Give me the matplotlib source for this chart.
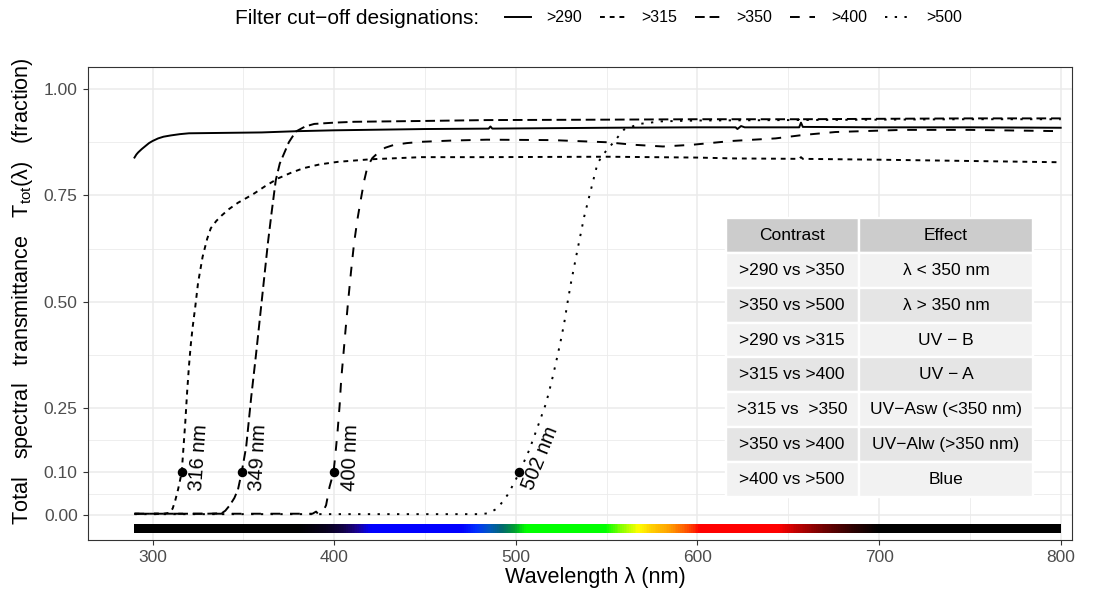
# Filter transmittance spectra with cut-off wavelengths marked

import numpy as np
import matplotlib
matplotlib.use("Agg")
import matplotlib.pyplot as plt
from matplotlib.colors import LinearSegmentedColormap
from matplotlib.lines import Line2D

plt.rcParams['font.family'] = ['Liberation Sans', 'DejaVu Sans']
plt.rcParams['mathtext.fontset'] = 'custom'
plt.rcParams['mathtext.rm'] = 'Liberation Sans'
plt.rcParams['mathtext.it'] = 'Liberation Sans:italic'

# Spectral data (wavelength nm, transmittance fraction)

w290 = [290, 291, 292, 294, 296, 298, 300, 303, 306, 310, 315, 320, 340, 360, 380, 400, 450,
        485, 486, 487, 550, 600, 621, 622, 624, 626, 656, 657, 658, 700, 750, 800]
t290 = [0.839, 0.846, 0.851, 0.859, 0.866, 0.873, 0.878, 0.884, 0.888, 0.891, 0.894, 0.896, 0.897,
        0.898, 0.901, 0.903, 0.906, 0.907, 0.912, 0.907, 0.909, 0.910, 0.910, 0.906, 0.913, 0.910,
        0.910, 0.921, 0.911, 0.910, 0.910, 0.909]

w315 = [290, 300, 306, 309, 311, 312.5, 314, 315, 316, 317, 318, 319, 320, 321, 322, 323.5, 325,
        327.5, 330, 332, 335, 338, 342, 347, 352, 356, 362, 369, 376, 383, 392, 402, 420, 448, 484,
        550, 600, 620, 656, 657, 658, 700, 750, 800]
t315 = [0.003, 0.003, 0.003, 0.005, 0.015, 0.035, 0.06, 0.08, 0.10, 0.16, 0.22, 0.29, 0.35, 0.40,
        0.44, 0.49, 0.545, 0.606, 0.648, 0.673, 0.690, 0.703, 0.718, 0.733, 0.745, 0.755, 0.772,
        0.790, 0.803, 0.814, 0.823, 0.829, 0.835, 0.840, 0.840, 0.841, 0.839, 0.837, 0.836, 0.840,
        0.836, 0.834, 0.831, 0.828]

w350 = [290, 330, 338, 340, 342.5, 345, 347, 349, 351.5, 354.3, 357, 359.5, 361.5, 363.5, 365.5,
        367.8, 370, 372.4, 375, 378.8, 384, 389, 400, 411, 450, 484, 550, 600, 656, 657, 658, 700,
        750, 800]
t350 = [0.003, 0.003, 0.004, 0.01, 0.023, 0.04, 0.06, 0.10, 0.16, 0.278, 0.38, 0.48, 0.56, 0.64,
        0.71, 0.786, 0.825, 0.849, 0.875, 0.900, 0.912, 0.918, 0.921, 0.923, 0.925, 0.927, 0.928,
        0.929, 0.929, 0.933, 0.929, 0.930, 0.931, 0.931]

w400 = [290, 380, 388, 390, 391, 394, 395.5, 397.4, 399.6, 400.8, 401.9, 403, 403.8, 405, 406.2,
        407.6, 409.2, 410.9, 412.8, 414.6, 416.5, 418.3, 421, 423.8, 428, 433, 440, 448, 465, 484,
        520, 550, 565, 581, 597, 619, 643, 658, 676, 713, 750, 800]
t400 = [0.003, 0.003, 0.003, 0.008, 0.003, 0.01, 0.023, 0.066, 0.10, 0.15, 0.20, 0.26, 0.317,
        0.375, 0.434, 0.50, 0.57, 0.638, 0.695, 0.74, 0.785, 0.818, 0.838, 0.849, 0.862, 0.869,
        0.873, 0.876, 0.879, 0.881, 0.880, 0.875, 0.869, 0.865, 0.869, 0.878, 0.884, 0.892, 0.899,
        0.904, 0.904, 0.901]

w500 = [290, 480, 485, 490, 495.4, 499, 501.9, 504.5, 507.4, 512, 516.6, 519.5, 522, 524.5, 526.6,
        528.5, 530.3, 533.9, 537.6, 541.3, 545, 548.6, 553.2, 559.6, 568, 580, 600, 650, 700, 750,
        800]
t500 = [0.002, 0.002, 0.004, 0.016, 0.047, 0.075, 0.10, 0.125, 0.153, 0.207, 0.262, 0.31, 0.356,
        0.405, 0.45, 0.50, 0.544, 0.622, 0.70, 0.763, 0.826, 0.849, 0.872, 0.905, 0.918, 0.924,
        0.926, 0.927, 0.928, 0.929, 0.929]

filter_names = ['>290', '>315', '>350', '>400', '>500']

# cut-off wavelengths where T = 0.10
cut_nm = [316, 349, 400, 502]
cut_T = [0.10, 0.10, 0.10, 0.10]
label_angle = [86, 87, 88, 68]

# table of contrasts
table_cols = ['Contrast', 'Effect']
contrast = ['>290 vs >350', '>350 vs >500', '>290 vs >315', '>315 vs >400',
            '>315 vs  >350', '>350 vs >400', '>400 vs >500']
effect = ['\u03bb < 350 nm', '\u03bb > 350 nm', 'UV \u2212 B', 'UV \u2212 A',
          'UV\u2212Asw (<350 nm)', 'UV\u2212Alw (>350 nm)', 'Blue']

# colours of the visible spectrum strip
spec_nm = [290, 380, 395, 405, 412, 420, 470, 478, 485, 492, 499, 505, 550, 558, 568, 575, 585,
           595, 602, 645, 655, 670, 685, 700, 800]
spec_col = ['#000000', '#000000', '#08001c', '#120048', '#1a0090', '#0000ff', '#0000ff', '#0030ff',
            '#0058c0', '#006870', '#00a030', '#00ff00', '#00ff00', '#80ff00', '#ffff00', '#ffd000',
            '#ffa000', '#ff5000', '#ff0000', '#ff0000', '#c00000', '#700000', '#300000', '#000000',
            '#000000']

# Plot

fig = plt.figure(figsize=(11, 5.94), dpi=100)
ax = fig.add_axes([0.08, 0.0909, 0.8945, 0.7963])

styles = ['-', (0, (2.5, 2.5)), (0, (5, 2.5)), (0, (5, 5)), (0, (1.2, 3.8))]
series = [(w290, t290), (w315, t315), (w350, t350), (w400, t400), (w500, t500)]

for (w, t), ls, name in zip(series, styles, filter_names):
    ax.plot(w, t, color='black', lw=1.4, linestyle=ls, label=name, zorder=3)

ax.scatter(cut_nm, cut_T, s=34, color='black', zorder=5)
for nm, y, ang in zip(cut_nm, cut_T, label_angle):
    off = (6, -12) if ang < 80 else (11, -13)
    ax.annotate(f"{nm} nm", (nm, y), xytext=off, textcoords='offset points',
                rotation=ang, rotation_mode='anchor', ha='left', va='center',
                fontsize=14.4, color='black')

# spectrum strip
cmap = LinearSegmentedColormap.from_list(
    'spec', [((n - 290) / 510, c) for n, c in zip(spec_nm, spec_col)], N=512)
ax.imshow(np.linspace(0, 1, 511)[None, :], cmap=cmap, extent=(290, 800, -0.0415, -0.022),
          aspect='auto', interpolation='nearest', zorder=2)

ax.set_xlim(264.4, 806.2)
ax.set_ylim(-0.0587, 1.0516)

ax.set_xticks([300, 400, 500, 600, 700, 800])
ax.set_xticks([350, 450, 550, 650, 750], minor=True)
ax.set_yticks([0, 0.10, 0.25, 0.50, 0.75, 1.00])
ax.set_yticklabels(['0.00', '0.10', '0.25', '0.50', '0.75', '1.00'])
ax.set_yticks([0.05, 0.175, 0.375, 0.625, 0.875], minor=True)

ax.grid(which='major', color='#EBEBEB', lw=1.1)
ax.grid(which='minor', color='#EBEBEB', lw=0.6)
ax.set_axisbelow(True)
ax.tick_params(which='major', length=3.9, width=0.8, color='#333333', labelcolor='#4D4D4D',
               labelsize=12.5)
ax.tick_params(which='minor', length=0)
for sp in ax.spines.values():
    sp.set_color('#333333')
    sp.set_linewidth(0.8)

ax.set_xlabel('Wavelength \u03bb (nm)', fontsize=15.6, va='center')
ax.set_ylabel(r'Total   spectral   transmittance   $\mathrm{T_{tot}(\lambda)}$   (fraction)',
              fontsize=15.6, va='center')
ax.xaxis.set_label_coords(0.516, -0.080)
ax.yaxis.set_label_coords(-0.067, 0.526)

# contrast table
tab = ax.table(cellText=[[c, e] for c, e in zip(contrast, effect)], colLabels=table_cols,
               cellLoc='center', colWidths=[0.4335, 0.5665],
               bbox=[0.6479, 0.0909, 0.3125, 0.5899])
tab.auto_set_font_size(False)
tab.set_fontsize(12.5)
tab.set_zorder(6)
for (r, c), cell in tab.get_celld().items():
    cell.set_edgecolor('white')
    cell.set_linewidth(1.7)
    if r == 0:
        cell.set_facecolor('#CCCCCC')
    elif r % 2 == 1:
        cell.set_facecolor('#F2F2F2')
    else:
        cell.set_facecolor('#E5E5E5')

# legend at the top
fig.text(235 / 1100, 1 - 18 / 594, 'Filter cut\u2212off designations:', fontsize=15,
         ha='left', va='center')
handles = [Line2D([], [], color='black', lw=1.4, linestyle=ls) for ls in styles]
fig.legend(handles, filter_names, ncol=5, loc='center left',
           bbox_to_anchor=(505 / 1100, 1 - 18 / 594), frameon=False, fontsize=11.5,
           handlelength=1.6, handletextpad=1.0, columnspacing=1.1, borderpad=0,
           borderaxespad=0)

fig.savefig('out.png', dpi=100)
